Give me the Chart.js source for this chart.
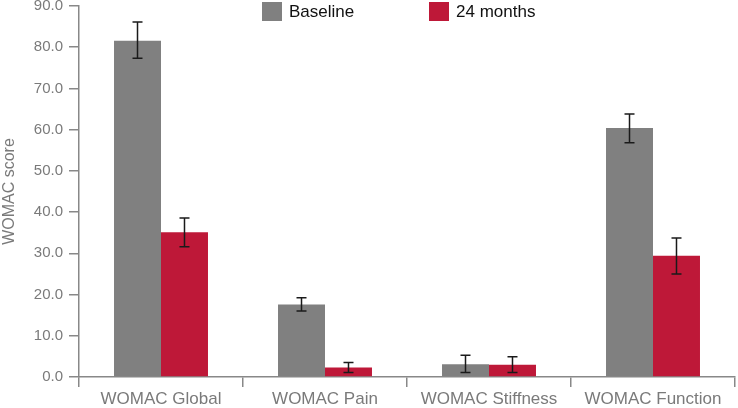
<!DOCTYPE html>
<html>
<head>
<meta charset="utf-8">
<script src="https://cdn.jsdelivr.net/npm/chart.js@4.4.1/dist/chart.umd.min.js"></script>
<style>
  html, body { margin: 0; padding: 0; background: #fff; }
  #wrap { width: 738px; height: 408px; position: relative; }
</style>
</head>
<body>
<div id="wrap"><canvas id="womacChart"></canvas></div>
<script>
// Dados
const categorias = ['WOMAC Global', 'WOMAC Pain', 'WOMAC Stiffness', 'WOMAC Function'];
const baseline = [81.6, 17.6, 3.1, 60.4];
const baselineBaixo = [77.3, 16.0, 1.1, 56.8];
const baselineAlto = [86.1, 19.2, 5.3, 63.8];
const meses24 = [35.1, 2.3, 3.0, 29.4];
const meses24Baixo = [31.6, 1.1, 1.1, 25.0];
const meses24Alto = [38.6, 3.5, 4.9, 33.7];
const ticksY = [0, 10, 20, 30, 40, 50, 60, 70, 80, 90];

const cinza = '#808080';
const vermelho = '#BE1838';
const textoCinza = '#7a7a7a';

// Barras de erro
const barrasErro = {
    id: 'barrasErro',
    afterDatasetsDraw(chart) {
        const ctx = chart.ctx;
        const y = chart.scales.y;
        ctx.save();
        ctx.strokeStyle = '#1a1a1a';
        ctx.lineWidth = 1.5;
        chart.data.datasets.forEach(function(ds, i) {
            const meta = chart.getDatasetMeta(i);
            meta.data.forEach(function(bar, j) {
                const x = bar.x;
                const yAlto = y.getPixelForValue(ds.erroAlto[j]);
                const yBaixo = y.getPixelForValue(ds.erroBaixo[j]);
                ctx.beginPath();
                ctx.moveTo(x, yAlto);
                ctx.lineTo(x, yBaixo);
                ctx.moveTo(x - 5, yAlto);
                ctx.lineTo(x + 5, yAlto);
                ctx.moveTo(x - 5, yBaixo);
                ctx.lineTo(x + 5, yBaixo);
                ctx.stroke();
            });
        });
        ctx.restore();
    }
};

// Legenda desenhada por cima da área do gráfico
const legendaTopo = {
    id: 'legendaTopo',
    afterDraw(chart) {
        const ctx = chart.ctx;
        const posicoes = [262, 429];
        ctx.save();
        ctx.font = '17px "Liberation Sans", Arial, sans-serif';
        ctx.textBaseline = 'middle';
        chart.data.datasets.forEach(function(ds, i) {
            const x = posicoes[i];
            ctx.fillStyle = ds.backgroundColor;
            ctx.fillRect(x, 2, 20, 19);
            ctx.fillStyle = '#111';
            ctx.fillText(ds.label, x + 27, 12);
        });
        ctx.restore();
    }
};

const ctx = document.getElementById('womacChart').getContext('2d');
new Chart(ctx, {
    type: 'bar',
    data: {
        labels: categorias,
        datasets: [{
            label: 'Baseline',
            data: baseline,
            erroBaixo: baselineBaixo,
            erroAlto: baselineAlto,
            backgroundColor: cinza
        }, {
            label: '24 months',
            data: meses24,
            erroBaixo: meses24Baixo,
            erroAlto: meses24Alto,
            backgroundColor: vermelho
        }]
    },
    options: {
        responsive: true,
        maintainAspectRatio: false,
        animation: false,
        layout: { padding: { top: 6, right: 3, left: 0, bottom: 0 } },
        datasets: {
            bar: { barPercentage: 1.0, categoryPercentage: 0.573 }
        },
        plugins: {
            legend: { display: false },
            tooltip: { enabled: false }
        },
        scales: {
            x: {
                grid: {
                    display: true,
                    drawOnChartArea: false,
                    drawTicks: true,
                    tickLength: 10,
                    color: '#888',
                    lineWidth: 1.5
                },
                border: { color: '#888', width: 1.5 },
                ticks: {
                    color: textoCinza,
                    padding: 2,
                    font: { family: '"Liberation Sans", Arial, sans-serif', size: 17 }
                },
                afterFit(scale) { scale.height = 31; }
            },
            y: {
                min: 0,
                max: 90,
                afterBuildTicks(scale) {
                    scale.ticks = ticksY.map(function(v) { return { value: v }; });
                },
                grid: {
                    display: true,
                    drawOnChartArea: false,
                    drawTicks: true,
                    tickLength: 10,
                    color: '#888',
                    lineWidth: 1.5
                },
                border: { color: '#888', width: 1.5 },
                ticks: {
                    color: textoCinza,
                    padding: 6,
                    font: { family: '"Liberation Sans", Arial, sans-serif', size: 15 },
                    callback: function(v) { return Number(v).toFixed(1); }
                },
                title: {
                    display: true,
                    text: 'WOMAC score',
                    color: textoCinza,
                    padding: 0,
                    font: { family: '"Liberation Sans", Arial, sans-serif', size: 16 }
                },
                afterFit(scale) {
                    scale.width = 79;
                    scale.paddingTop = 0;
                    scale.paddingBottom = 0;
                }
            }
        }
    },
    plugins: [barrasErro, legendaTopo]
});
</script>
</body>
</html>
